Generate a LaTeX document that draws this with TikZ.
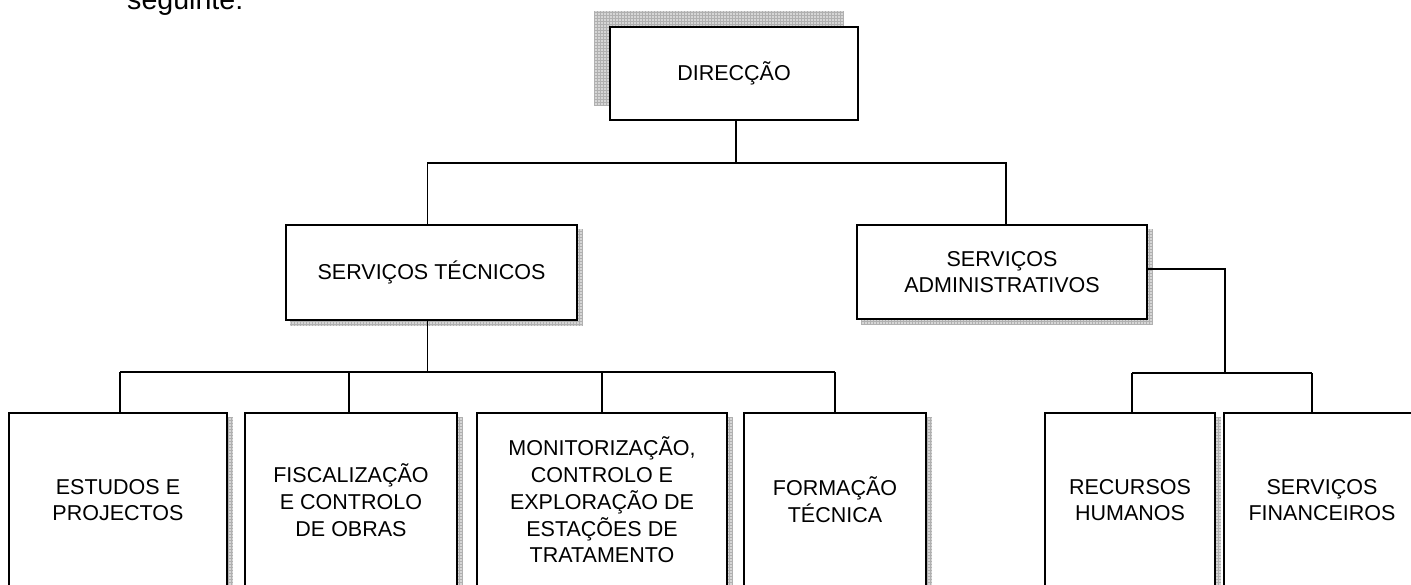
\documentclass[tikz,border=0pt]{standalone}
\usepackage{fontspec}
\setmainfont{Liberation Sans}
\usetikzlibrary{patterns,backgrounds}
\tikzset{
  orgbox/.style={draw=black, fill=white, line width=1.9pt, inner sep=0pt, align=center,
    font=\fontsize{21.5}{26.7}\selectfont},
  conn/.style={draw=black, line width=1.9pt},
  shadowfill/.style={fill=gray!32, postaction={pattern=grid, pattern color=gray!62}},
}
\begin{document}
\begin{tikzpicture}[x=1pt,y=-1pt]
\useasboundingbox (0,0) rectangle (1411,585);
% partial paragraph text above
\node[anchor=base west, inner sep=0pt, font=\fontsize{28.6}{34}\selectfont] (seg) at (127,10) {seguinte:};
% boxes
\node[orgbox, minimum width=248pt, minimum height=93pt] (dir) at (734,73.5) {DIRECÇÃO};
\node[orgbox, minimum width=291pt, minimum height=95pt] (tec) at (431.5,272.5) {SERVIÇOS TÉCNICOS};
\node[orgbox, minimum width=290pt, minimum height=94pt] (adm) at (1002,272) {SERVIÇOS\\ADMINISTRATIVOS};
\node[orgbox, minimum width=218pt, minimum height=174pt] (est) at (118,500) {ESTUDOS E\\PROJECTOS};
\node[orgbox, minimum width=212pt, minimum height=174pt] (fis) at (351,500) {FISCALIZAÇÃO\\E CONTROLO\\DE OBRAS};
\node[orgbox, minimum width=250pt, minimum height=174pt] (mon) at (602,500) {MONITORIZAÇÃO,\\CONTROLO E\\EXPLORAÇÃO DE\\ESTAÇÕES DE\\TRATAMENTO};
\node[orgbox, minimum width=182pt, minimum height=174pt] (for) at (835,500) {FORMAÇÃO\\TÉCNICA};
\node[orgbox, minimum width=170pt, minimum height=174pt] (rec) at (1130,500) {RECURSOS\\HUMANOS};
\node[orgbox, minimum width=196pt, minimum height=174pt] (fin) at (1322,500) {SERVIÇOS\\FINANCEIROS};
% shadows
\begin{scope}[on background layer]
  \fill[shadowfill] ([shift={(-15,-15)}]dir.north west) rectangle ([shift={(-15,-15)}]dir.south east);
  \foreach \n in {tec,adm,est,fis,mon,for,rec,fin}{
    \fill[shadowfill] ([shift={(5,5)}]\n.north west) rectangle ([shift={(5,5)}]\n.south east);
  }
\end{scope}
% connectors
\coordinate (bus1) at (736,163);
\coordinate (bus2) at (428,372);
\coordinate (bus3) at (1225,373);
\draw[conn] ([xshift=2pt]dir.south) -- ([xshift=2pt]dir.south |- bus1);
\draw[conn] ([xshift=-4pt]tec.north) -- ([xshift=-4pt]tec.north |- bus1) -- ([xshift=4pt]adm.north |- bus1) -- ([xshift=4pt]adm.north);
\draw[conn] ([xshift=-4pt]tec.south) -- ([xshift=-4pt]tec.south |- bus2);
\draw[conn] ([xshift=2pt]est.north |- bus2) -- (for.north |- bus2);
\draw[conn] ([xshift=2pt]est.north |- bus2) -- ([xshift=2pt]est.north);
\draw[conn] ([xshift=-2pt]fis.north |- bus2) -- ([xshift=-2pt]fis.north);
\draw[conn] (mon.north |- bus2) -- (mon.north);
\draw[conn] (for.north |- bus2) -- (for.north);
\draw[conn] ([yshift=3pt]adm.east) -- ([yshift=3pt]adm.east -| bus3) -- (bus3);
\draw[conn] ([xshift=2pt]rec.north |- bus3) -- ([xshift=-10pt]fin.north |- bus3);
\draw[conn] ([xshift=2pt]rec.north |- bus3) -- ([xshift=2pt]rec.north);
\draw[conn] ([xshift=-10pt]fin.north |- bus3) -- ([xshift=-10pt]fin.north);
\end{tikzpicture}
\end{document}
